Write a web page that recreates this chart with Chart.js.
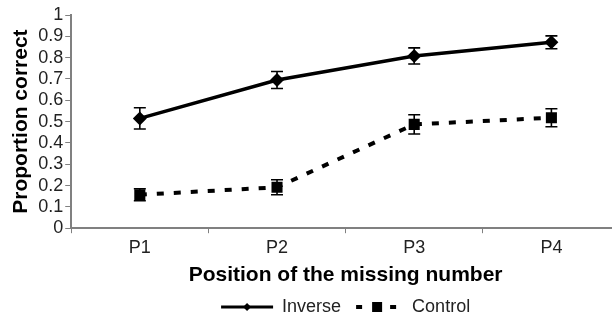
<!DOCTYPE html>
<html>
<head>
<meta charset="utf-8">
<script src="https://cdn.jsdelivr.net/npm/chart.js@4.4.0/dist/chart.umd.min.js"></script>
<style>
  html, body { margin: 0; padding: 0; background: #fff; overflow: hidden; }
  #wrap { width: 612px; height: 315px; overflow: hidden; }
</style>
</head>
<body>
<div id="wrap"><canvas id="chart" width="629" height="315"></canvas></div>
<script>
// data
const positions = ['P1', 'P2', 'P3', 'P4'];
const inverseMean = [0.515, 0.695, 0.808, 0.872];
const inverseErr = [0.05, 0.04, 0.038, 0.03];
const controlMean = [0.157, 0.192, 0.487, 0.518];
const controlErr = [0.028, 0.035, 0.045, 0.042];
const yTicks = [0, 0.1, 0.2, 0.3, 0.4, 0.5, 0.6, 0.7, 0.8, 0.9, 1];

const FONT = "'Liberation Sans', Arial, sans-serif";
const errors = [inverseErr, controlErr];

// error bars drawn under the markers
const errorBars = {
  id: 'errorBars',
  beforeDatasetsDraw(chart) {
    const ctx = chart.ctx;
    const xs = chart.scales.x;
    const ys = chart.scales.y;
    ctx.save();
    ctx.strokeStyle = '#000';
    ctx.lineWidth = 1.6;
    chart.data.datasets.forEach((ds, d) => {
      ds.data.forEach((v, i) => {
        const e = errors[d][i];
        const x = xs.getPixelForValue(i);
        const top = ys.getPixelForValue(v + e);
        const bot = ys.getPixelForValue(v - e);
        ctx.beginPath();
        ctx.moveTo(x, top); ctx.lineTo(x, bot);
        ctx.moveTo(x - 6, top); ctx.lineTo(x + 6, top);
        ctx.moveTo(x - 6, bot); ctx.lineTo(x + 6, bot);
        ctx.stroke();
      });
    });
    ctx.restore();
  }
};

// legend centred under the plot area, symbols = line + marker
const legendLook = {
  id: 'legendLook',
  afterLayout(chart) {
    const legend = chart.legend;
    if (!legend) return;
    const shift = (chart.chartArea.left + chart.chartArea.right) / 2 - (legend.left + legend.right) / 2;
    legend.left += shift;
    legend.right += shift;
  },
  afterDraw(chart) {
    const legend = chart.legend;
    if (!legend || !legend.legendHitBoxes) return;
    const ctx = chart.ctx;
    const boxW = legend.options.labels.boxWidth;
    ctx.save();
    ctx.fillStyle = '#000';
    ctx.strokeStyle = '#000';
    legend.legendHitBoxes.forEach((hb, i) => {
      const x0 = hb.left;
      const cx = x0 + boxW / 2;
      const cy = Math.round(hb.top + hb.height / 2);
      ctx.beginPath();
      if (i === 0) {
        ctx.lineWidth = 3;
        ctx.setLineDash([]);
        ctx.moveTo(x0, cy); ctx.lineTo(x0 + boxW, cy);
        ctx.stroke();
        ctx.beginPath();
        ctx.moveTo(cx, cy - 4); ctx.lineTo(cx + 4, cy);
        ctx.lineTo(cx, cy + 4); ctx.lineTo(cx - 4, cy);
        ctx.closePath();
        ctx.fill();
      } else {
        ctx.lineWidth = 4;
        ctx.setLineDash([6, 11]);
        ctx.lineDashOffset = -5;
        ctx.moveTo(x0, cy); ctx.lineTo(x0 + boxW - 4, cy);
        ctx.stroke();
        ctx.setLineDash([]);
        ctx.fillRect(cx - 5, cy - 5, 10, 10);
      }
    });
    ctx.restore();
  }
};

new Chart(document.getElementById('chart'), {
  type: 'line',
  data: {
    labels: positions,
    datasets: [{
      label: 'Inverse',
      data: inverseMean,
      borderColor: '#000',
      backgroundColor: '#000',
      borderWidth: 3.5,
      pointStyle: 'rectRot',
      pointRadius: 4.5,
      pointBackgroundColor: '#000',
      pointBorderColor: '#000',
      tension: 0
    }, {
      label: 'Control',
      data: controlMean,
      borderColor: '#000',
      backgroundColor: '#000',
      borderWidth: 4,
      borderDash: [7, 10],
      pointStyle: 'rect',
      pointRadius: 5,
      pointBackgroundColor: '#000',
      pointBorderColor: '#000',
      tension: 0
    }]
  },
  options: {
    responsive: false,
    animation: false,
    devicePixelRatio: 1,
    layout: { padding: { top: 15, right: 5, left: 9, bottom: -11 } },
    plugins: {
      tooltip: { enabled: false },
      legend: {
        position: 'bottom',
        labels: {
          boxWidth: 52,
          boxHeight: 0,
          padding: 10,
          color: '#222',
          font: { family: FONT, size: 18 },
          generateLabels(chart) {
            return chart.data.datasets.map((ds, i) => ({
              text: ds.label,
              fillStyle: 'rgba(0,0,0,0)',
              strokeStyle: 'rgba(0,0,0,0)',
              lineWidth: 0,
              fontColor: '#222',
              datasetIndex: i
            }));
          }
        }
      }
    },
    scales: {
      x: {
        offset: true,
        grid: { offset: true, drawOnChartArea: false, tickLength: 5, color: '#808080' },
        border: { color: '#808080', width: 2 },
        ticks: { color: '#222', font: { family: FONT, size: 18 }, padding: 4 },
        title: {
          display: true,
          text: 'Position of the missing number',
          color: '#000',
          font: { family: FONT, size: 21, weight: 'bold' },
          padding: { top: 0, bottom: 0 }
        }
      },
      y: {
        min: 0,
        max: 1,
        afterBuildTicks(scale) { scale.ticks = yTicks.map(v => ({ value: v })); },
        grid: { drawOnChartArea: false, tickLength: 6, color: '#808080' },
        border: { color: '#808080', width: 2 },
        ticks: {
          autoSkip: false,
          color: '#222',
          font: { family: FONT, size: 18 },
          padding: 2,
          callback: v => String(Math.round(v * 10) / 10)
        },
        title: {
          display: true,
          text: 'Proportion correct',
          color: '#000',
          font: { family: FONT, size: 21, weight: 'bold' },
          padding: { top: 0, bottom: 2 }
        }
      }
    }
  },
  plugins: [errorBars, legendLook]
});
</script>
</body>
</html>
